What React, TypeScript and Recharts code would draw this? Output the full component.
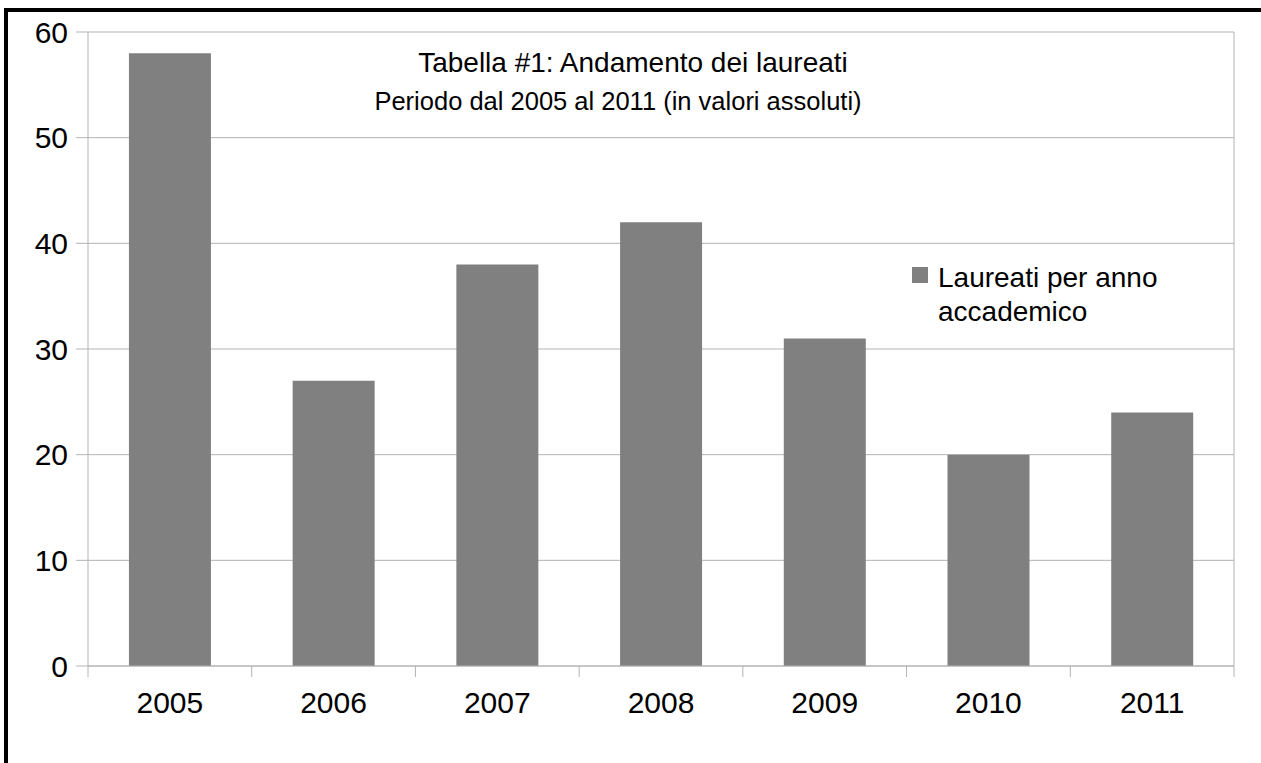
import { BarChart, Bar, XAxis, YAxis, CartesianGrid, Legend } from "recharts";

// anni accademici e numero di laureati
const anni = ["2005", "2006", "2007", "2008", "2009", "2010", "2011"];
const laureati = [58, 27, 38, 42, 31, 20, 24];
const yTicks = [0, 10, 20, 30, 40, 50, 60];

const seriesName = "Laureati per anno accademico";
const titolo = "Tabella #1: Andamento dei laureati";
const sottotitolo = "Periodo dal 2005 al 2011 (in valori assoluti)";

const FONT = "'Liberation Sans', Arial, sans-serif";
const GRID = "#b3b3b3";
const BAR = "#808080";
const X_MARGIN = 26;
const X_TICK_LEN = 11;

const chartData = anni.map((anno, i) => ({ anno, laureati: laureati[i] }));

// etichetta anno + tacche sui confini tra le categorie
const YearTick = (props: any) => {
  const { x, y, payload, index, visibleTicksCount } = props;
  const half = payload?.offset ?? 0;
  const axisY = y - X_MARGIN;
  const isLast = index === visibleTicksCount - 1;
  return (
    <g>
      <line x1={x - half} x2={x - half} y1={axisY} y2={axisY + X_TICK_LEN} stroke={GRID} />
      {isLast && (
        <line x1={x + half} x2={x + half} y1={axisY} y2={axisY + X_TICK_LEN} stroke={GRID} />
      )}
      <text
        x={x}
        y={y}
        dy="0.71em"
        textAnchor="middle"
        fontSize={30}
        fontFamily={FONT}
        fill="#000"
      >
        {payload.value}
      </text>
    </g>
  );
};

const LegendBox = () => (
  <div style={{ position: "relative", width: 260, height: 0, fontFamily: FONT }}>
    <div
      style={{
        position: "absolute",
        left: 0,
        top: 6,
        width: 16,
        height: 16,
        background: BAR,
      }}
    />
    <div
      style={{
        position: "absolute",
        left: 26,
        top: 0,
        fontSize: 28,
        lineHeight: "34px",
        color: "#000",
        whiteSpace: "nowrap",
      }}
    >
      Laureati per anno
      <br />
      accademico
    </div>
  </div>
);

export default function App() {
  return (
    <div
      style={{
        position: "fixed",
        left: 0,
        top: 0,
        width: 1261,
        height: 763,
        overflow: "hidden",
        background: "#fff",
      }}
    >
      {/* bordo nero esterno (tagliato a destra e in basso) */}
      <div
        style={{
          position: "absolute",
          left: 4,
          top: 8,
          width: 1300,
          height: 800,
          border: "4px solid #000",
          boxSizing: "border-box",
        }}
      />
      <div style={{ position: "absolute", left: 0, top: 0 }}>
        <BarChart
          width={1261}
          height={763}
          data={chartData}
          barCategoryGap="25%"
          margin={{ top: 32, right: 0, left: 0, bottom: 0 }}
        >
          <CartesianGrid horizontal vertical={false} stroke={GRID} strokeWidth={1} />
          <XAxis
            dataKey="anno"
            height={97}
            axisLine={{ stroke: GRID }}
            tickLine={false}
            tickSize={0}
            tickMargin={X_MARGIN}
            tick={<YearTick />}
            interval={0}
          />
          <YAxis
            width={88}
            domain={[0, 60]}
            ticks={yTicks}
            axisLine={{ stroke: GRID }}
            tickLine={{ stroke: GRID }}
            tickSize={12}
            tickMargin={8}
            tick={{ fontSize: 30, fill: "#000", fontFamily: FONT }}
          />
          <YAxis
            yAxisId="r"
            orientation="right"
            width={27}
            domain={[0, 60]}
            tick={false}
            tickLine={false}
            axisLine={{ stroke: GRID }}
          />
          <Legend
            content={() => <LegendBox />}
            wrapperStyle={{ position: "absolute", left: 912, top: 261, width: 260, height: 0 }}
          />
          <Bar
            dataKey="laureati"
            name={seriesName}
            fill={BAR}
            isAnimationActive={false}
          />
        </BarChart>
      </div>
      <svg
        width={1261}
        height={763}
        style={{ position: "absolute", left: 0, top: 0, pointerEvents: "none" }}
      >
        <text x={633} y={72} textAnchor="middle" fontSize={28} fontFamily={FONT} fill="#000">
          {titolo}
        </text>
        <text x={618} y={110} textAnchor="middle" fontSize={25.5} fontFamily={FONT} fill="#000">
          {sottotitolo}
        </text>
      </svg>
    </div>
  );
}
